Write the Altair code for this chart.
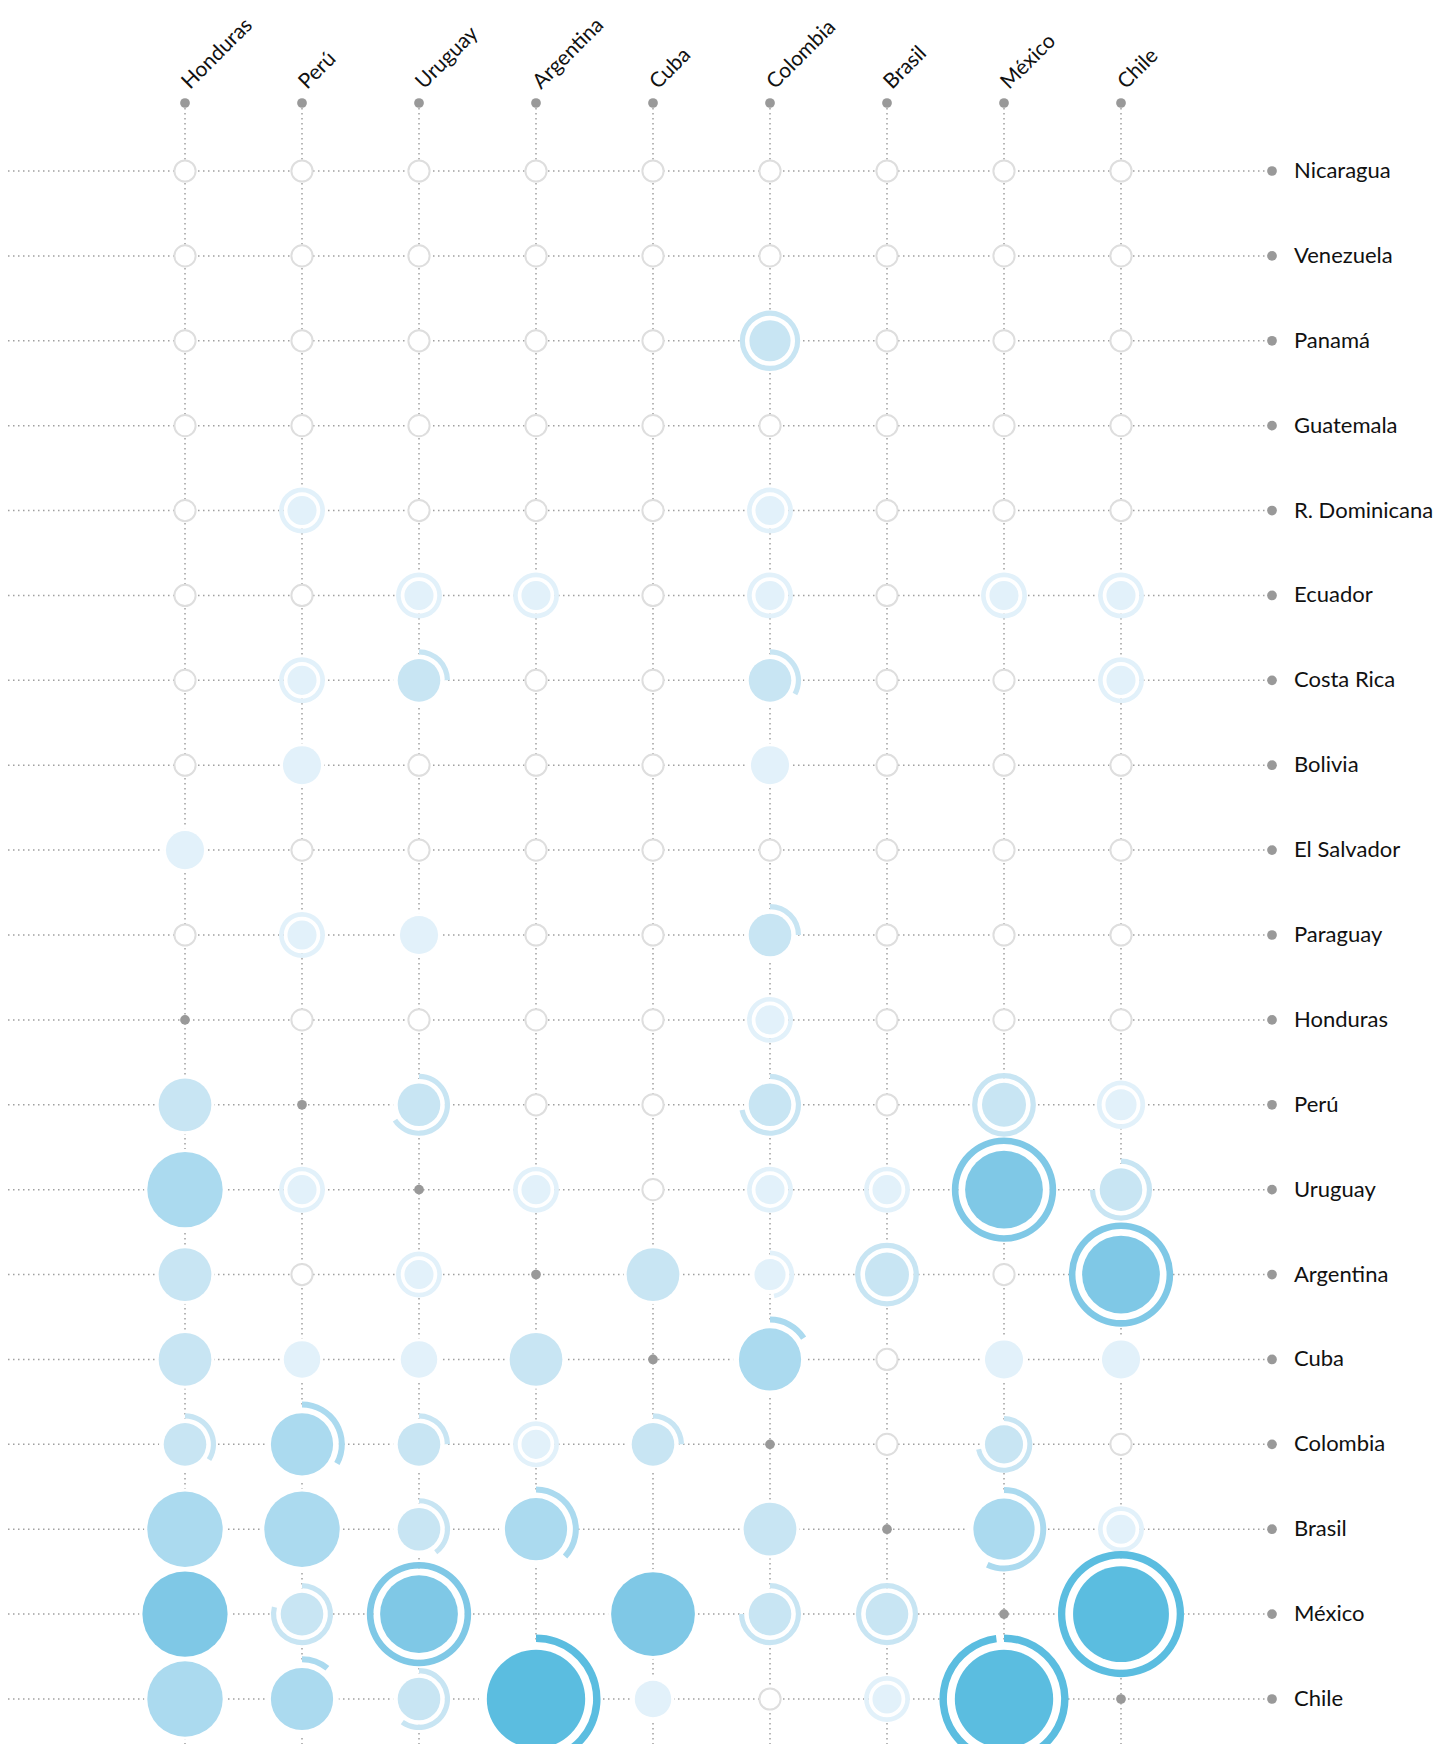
import altair as alt
import pandas as pd

columnas = ["Honduras", "Perú", "Uruguay", "Argentina", "Cuba", "Colombia", "Brasil", "México", "Chile"]
filas = ["Nicaragua", "Venezuela", "Panamá", "Guatemala", "R. Dominicana", "Ecuador", "Costa Rica",
         "Bolivia", "El Salvador", "Paraguay", "Honduras", "Perú", "Uruguay", "Argentina", "Cuba",
         "Colombia", "Brasil", "México", "Chile"]

# disc value per cell (0 = sin dato -> empty circle, None = no mark)
valores = [
    [0, 0, 0, 0, 0, 0, 0, 0, 0],
    [0, 0, 0, 0, 0, 0, 0, 0, 0],
    [0, 0, 0, 0, 0, 14, 0, 0, 0],
    [0, 0, 0, 0, 0, 0, 0, 0, 0],
    [0, 7, 0, 0, 0, 7, 0, 0, 0],
    [0, 0, 7, 7, 0, 7, 0, 7, 7],
    [0, 7, 15, 0, 0, 15, 0, 0, 7],
    [0, 12, 0, 0, 0, 12, 0, 0, 0],
    [12, 0, 0, 0, 0, 0, 0, 0, 0],
    [0, 7, 12, 0, 0, 15, 0, 0, 0],
    [0, 0, 0, 0, 0, 7, 0, 0, 0],
    [23, 0, 15, 0, 0, 15, 0, 16, 8],
    [47, 7, 0, 7, 0, 7, 7, 50, 15],
    [23, 0, 7, 0, 23, 8, 16, 0, 50],
    [23, 11, 11, 23, 0, 32, 0, 12, 12],
    [15, 32, 15, 7, 15, 0, 0, 12, 0],
    [47, 47, 15, 32, None, 23, 0, 31, 7],
    [60, 15, 50, None, 58, 15, 15, 0, 76],
    [47, 32, 15, 80, 11, 0, 7, 80, 0],
]

# ring fraction per cell (1 = full ring)
anillos = [
    [0, 0, 0, 0, 0, 0, 0, 0, 0],
    [0, 0, 0, 0, 0, 0, 0, 0, 0],
    [0, 0, 0, 0, 0, 1, 0, 0, 0],
    [0, 0, 0, 0, 0, 0, 0, 0, 0],
    [0, 1, 0, 0, 0, 1, 0, 0, 0],
    [0, 0, 1, 1, 0, 1, 0, 1, 1],
    [0, 1, 0.25, 0, 0, 0.33, 0, 0, 1],
    [0, 0, 0, 0, 0, 0, 0, 0, 0],
    [0, 0, 0, 0, 0, 0, 0, 0, 0],
    [0, 1, 0, 0, 0, 0.25, 0, 0, 0],
    [0, 0, 0, 0, 0, 1, 0, 0, 0],
    [0, 0, 0.66, 0, 0, 0.72, 0, 1, 1],
    [0, 1, 0, 1, 0, 1, 1, 1, 0.75],
    [0, 0, 1, 0, 0, 0.47, 1, 0, 1],
    [0, 0, 0, 0, 0, 0.16, 0, 0, 0],
    [0.34, 0.33, 0.25, 1, 0.25, 0, 0, 0.72, 0],
    [0, 0, 0.4, 0.37, 0, 0, 0, 0.57, 1],
    [0, 0.79, 1, 0, 0, 0.75, 1, 0, 1],
    [0, 0.11, 0.6, 0.42, 0, 0, 1, 0.98, 0],
]

umbrales = [16.5, 33, 55, 105]
colores = ["#e2f1fa", "#c8e5f3", "#abdaef", "#7fc8e6", "#5bbde0"]

registros = []
for i, f in enumerate(filas):
    for j, c in enumerate(columnas):
        v = valores[i][j]
        a = anillos[i][j]
        if f == c:
            tipo = "propio"
        elif v is None:
            continue
        elif v == 0:
            tipo = "vacio"
        else:
            tipo = "dato"
        registros.append({"fila": f, "columna": c, "valor": v or 0, "anillo": a, "tipo": tipo})
df = pd.DataFrame(registros)
df_dato = df[df.tipo == "dato"]
df_anillo = df_dato[df_dato.anillo > 0]
df_vacio = df[df.tipo == "vacio"]
df_propio = df[df.tipo == "propio"]
df_col = pd.DataFrame({"columna": columnas})
df_fila = pd.DataFrame({"fila": filas})

W, H = 1430, 1736
X = alt.X("columna:N", scale=alt.Scale(type="point", domain=columnas, range=[177, 1113], padding=0), axis=None)
Y = alt.Y("fila:N", scale=alt.Scale(type="point", domain=filas, range=[163, 1691], padding=0), axis=None)
COLOR = alt.Color("total:Q", scale=alt.Scale(type="threshold", domain=umbrales, range=colores), legend=None)

GRID = dict(color="#a0a0a0", strokeDash=[1.5, 3.5], strokeWidth=1.5)


def calc(ch):
    return (ch.transform_calculate(r="5.5*sqrt(datum.valor)")
              .transform_calculate(ro="1.2*datum.r + 5.5")
              .transform_calculate(ri="datum.ro - 3.5 - 0.08*datum.r")
              .transform_calculate(halo="datum.anillo > 0 ? datum.ri : datum.r + 3")
              .transform_calculate(total="datum.valor * (1 + datum.anillo)")
              .transform_calculate(t0="0")
              .transform_calculate(t1="datum.anillo * 2 * PI"))


h_rules = alt.Chart(df_fila).mark_rule(**GRID).encode(y=Y, x=alt.value(0), x2=alt.value(1264))
v_rules = alt.Chart(df_col).mark_rule(**GRID).encode(x=X, y=alt.value(95), y2=alt.value(H))

vacios = alt.Chart(df_vacio).mark_circle(fill="white", stroke="#dedede", strokeWidth=2, size=450, opacity=1).encode(x=X, y=Y)

halos = calc(alt.Chart(df_dato)).mark_arc(theta=0, theta2=6.2832, color="white").encode(
    x=X, y=Y, radius=alt.Radius("halo:Q", scale=None, stack=None))

discos = calc(alt.Chart(df_dato)).mark_arc(theta=0, theta2=6.2832).encode(
    x=X, y=Y, radius=alt.Radius("r:Q", scale=None, stack=None), color=COLOR)

aros = calc(alt.Chart(df_anillo)).mark_arc().encode(
    x=X, y=Y,
    theta=alt.Theta("t0:Q", scale=None, stack=None), theta2="t1:Q",
    radius=alt.Radius("ri:Q", scale=None, stack=None), radius2="ro:Q",
    color=COLOR)

propios = alt.Chart(df_propio).mark_circle(size=95, color="#999999", opacity=1).encode(x=X, y=Y)
puntos_col = alt.Chart(df_col).mark_circle(size=95, color="#999999", opacity=1).encode(x=X, y=alt.value(95))
puntos_fila = alt.Chart(df_fila).mark_circle(size=95, color="#999999", opacity=1).encode(x=alt.value(1264), y=Y)

etiquetas_fila = alt.Chart(df_fila).mark_text(align="left", baseline="middle", font="Lato", fontSize=22,
                                              color="#111111").encode(x=alt.value(1286), y=Y, text="fila:N")
etiquetas_col = alt.Chart(df_col).mark_text(align="left", baseline="alphabetic", angle=315, font="Lato",
                                            fontSize=21, color="#111111", dx=3.5, dy=3.5).encode(
    x=X, y=alt.value(82), text="columna:N")

chart = alt.layer(h_rules, v_rules, vacios, halos, discos, aros, propios, puntos_col, puntos_fila,
                  etiquetas_fila, etiquetas_col).properties(
    width=W, height=H, padding=0, autosize=alt.AutoSizeParams(type="none"), background="white"
).configure_view(stroke=None)

chart.save("out.html", embed_options={"renderer": "svg", "actions": False})
